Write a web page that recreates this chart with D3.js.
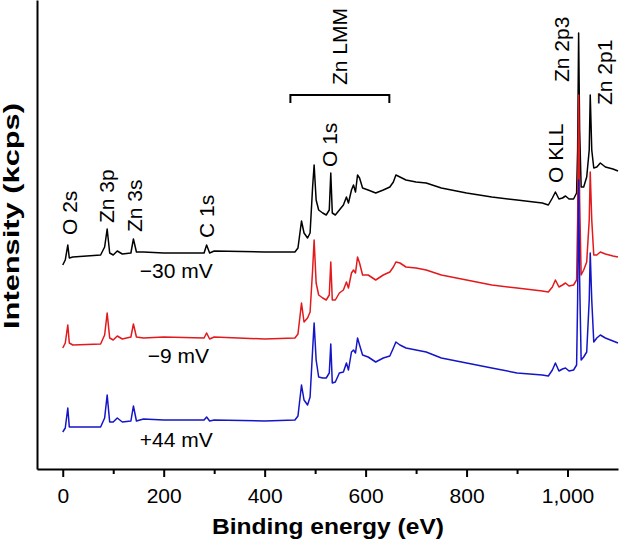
<!DOCTYPE html>
<html>
<head>
<meta charset="utf-8">
<script src="https://cdn.jsdelivr.net/npm/d3@7"></script>
<style>
  html, body { margin: 0; padding: 0; background: #fff; }
  svg { display: block; font-family: "Liberation Sans", Arial, Helvetica, sans-serif; }
</style>
</head>
<body>
<svg id="chart" width="620" height="540"></svg>
<script>
// Binding energy grid (eV)
const energy = [0, 5, 10, 13, 20, 75, 83, 88, 93, 100, 108, 118, 135, 140, 146, 160, 200, 280, 285, 291, 300, 400, 460, 466, 473, 478, 485, 490, 495, 498, 502, 507, 515, 522, 528, 531, 534, 540, 548, 556, 562, 566, 572, 576, 580, 584, 588, 594, 605, 620, 635, 648, 655, 660, 668, 680, 700, 720, 750, 800, 850, 900, 950, 962, 970, 976, 983, 990, 996, 1003, 1012, 1018, 1020, 1022, 1024, 1027, 1032, 1038, 1043, 1045, 1048, 1052, 1058, 1065, 1075, 1090, 1100];

// Intensities (arbitrary, stacked with offsets) for each zeta potential
const seriesM30 = [204, 209, 224, 211, 212, 214, 222, 240, 216, 214, 218, 215, 216, 230, 217, 217, 216, 216, 224, 216, 218, 217, 217, 221, 248, 236, 231, 236, 282, 304, 269, 259, 256, 254, 259, 296, 256, 254, 259, 264, 272, 266, 279, 284, 277, 294, 291, 281, 279, 276, 279, 282, 287, 294, 292, 289, 287, 286, 281, 276, 272, 269, 266, 264, 271, 277, 270, 271, 273, 270, 270, 276, 319, 436, 339, 282, 282, 292, 319, 374, 319, 301, 302, 306, 302, 300, 298];
const seriesM9 = [121, 126, 144, 126, 124, 125, 134, 156, 131, 129, 133, 130, 132, 145, 132, 131, 132, 131, 136, 130, 132, 130, 131, 135, 166, 147, 151, 157, 199, 229, 186, 174, 171, 169, 174, 207, 169, 169, 176, 179, 187, 181, 196, 199, 196, 212, 206, 194, 194, 189, 194, 197, 202, 207, 206, 202, 201, 199, 194, 189, 184, 181, 178, 177, 182, 189, 182, 184, 186, 183, 184, 189, 249, 374, 269, 194, 199, 207, 249, 297, 249, 214, 214, 217, 215, 213, 212];
const seriesP44 = [37, 41, 61, 42, 42, 42, 51, 74, 47, 47, 51, 47, 48, 63, 48, 50, 49, 49, 52, 48, 49, 48, 49, 53, 84, 69, 64, 72, 119, 146, 109, 92, 91, 91, 96, 125, 86, 87, 96, 97, 106, 99, 117, 119, 116, 131, 124, 114, 112, 107, 111, 113, 121, 127, 124, 121, 119, 117, 111, 106, 101, 96, 94, 93, 99, 106, 98, 100, 101, 98, 99, 104, 169, 289, 189, 109, 112, 117, 169, 216, 169, 127, 131, 134, 131, 128, 126];

const seriesNames = ["\u221230 mV", "\u22129 mV", "+44 mV"];
const seriesColors = ["#000000", "#e3191c", "#1515c8"];
// series label anchor (eV, intensity)
const seriesLabelE = [225, 229, 225];
const seriesLabelI = [191, 106, 22];

const xTicks = [0, 200, 400, 600, 800, 1000];
const xMinorTicks = [100, 300, 500, 700, 900];

// Peak annotations
const peakNames = ["O 2s", "Zn 3p", "Zn 3s", "C 1s", "O 1s", "Zn LMM", "O KLL", "Zn 2p3", "Zn 2p1"];
const peakLabelE = [14, 87, 143, 284, 529, 549, 977, 987, 1074];
const peakLabelI = [234, 246, 237, 231, 302, 384, 286, 387, 364];

// Zn LMM bracket
const bracketE = [451, 647];
const bracketI = [374, 366];

const svg = d3.select("#chart");
const x = d3.scaleLinear().domain([-51, 1100]).range([37, 618]);
const y = d3.scaleLinear().domain([0, 469]).range([469, 0]);

const line = d3.line().x((d, i) => x(energy[i])).y(d => y(d));

const all = [seriesM30, seriesM9, seriesP44];
all.forEach((s, k) => {
  svg.append("path")
    .datum(s)
    .attr("d", line)
    .attr("fill", "none")
    .attr("stroke", seriesColors[k])
    .attr("stroke-width", 1.5)
    .attr("stroke-linejoin", "round");
});

// series labels
seriesNames.forEach((n, k) => {
  svg.append("text")
    .attr("x", x(seriesLabelE[k]))
    .attr("y", y(seriesLabelI[k]))
    .attr("text-anchor", "middle")
    .attr("font-size", 21)
    .attr("fill", "#000")
    .text(n);
});

// peak labels
peakNames.forEach((n, k) => {
  svg.append("text")
    .attr("transform", `translate(${x(peakLabelE[k])},${y(peakLabelI[k])}) rotate(-90)`)
    .attr("dy", "0.36em")
    .attr("text-anchor", "start")
    .attr("font-size", 21)
    .attr("fill", "#000")
    .text(n);
});

// bracket
svg.append("path")
  .attr("d", d3.line()([
    [x(bracketE[0]), y(bracketI[1])],
    [x(bracketE[0]), y(bracketI[0])],
    [x(bracketE[1]), y(bracketI[0])],
    [x(bracketE[1]), y(bracketI[1])]
  ]))
  .attr("fill", "none")
  .attr("stroke", "#000")
  .attr("stroke-width", 2);

// x axis
const xAxis = svg.append("g")
  .attr("transform", `translate(0,${y(0)})`)
  .call(d3.axisBottom(x).tickValues(xTicks).tickFormat(d3.format(",")).tickSize(8).tickPadding(11).tickSizeOuter(0));
xAxis.select(".domain").attr("stroke-width", 2);
xAxis.selectAll(".tick line").attr("stroke-width", 2);
xAxis.selectAll(".tick text").attr("font-size", 21).attr("font-family", "Liberation Sans, Arial, sans-serif").attr("fill", "#000");

const xMinor = svg.append("g")
  .attr("transform", `translate(0,${y(0)})`)
  .call(d3.axisBottom(x).tickValues(xMinorTicks).tickSize(5).tickFormat(""));
xMinor.select(".domain").remove();
xMinor.selectAll(".tick line").attr("stroke-width", 2);

// y axis (no ticks)
const yAxis = svg.append("g")
  .attr("transform", `translate(${x(-51)},0)`)
  .call(d3.axisLeft(y).tickValues([]).tickSizeOuter(0));
yAxis.select(".domain").attr("stroke-width", 2);

// titles
svg.append("text")
  .attr("x", 328)
  .attr("y", 534)
  .attr("text-anchor", "middle")
  .attr("font-size", 22)
  .attr("font-weight", "bold")
  .attr("textLength", 232)
  .attr("lengthAdjust", "spacingAndGlyphs")
  .text("Binding energy (eV)");

svg.append("text")
  .attr("transform", `translate(19,216) rotate(-90)`)
  .attr("text-anchor", "middle")
  .attr("font-size", 22)
  .attr("font-weight", "bold")
  .attr("textLength", 226)
  .attr("lengthAdjust", "spacingAndGlyphs")
  .text("Intensity (kcps)");
</script>
</body>
</html>
